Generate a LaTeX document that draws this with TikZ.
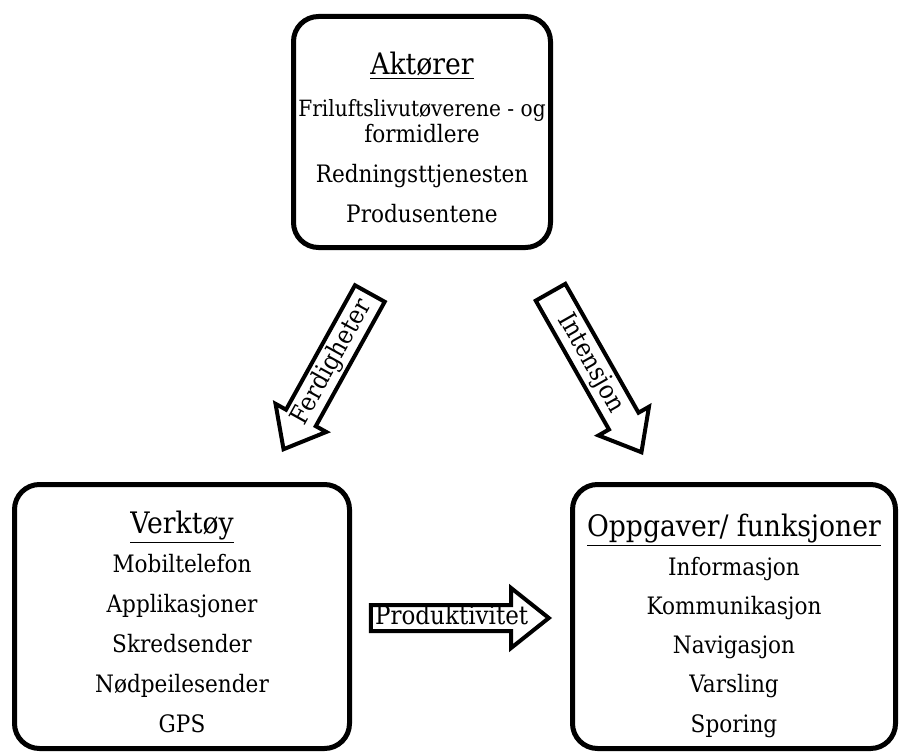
\documentclass[tikz,border=0pt]{standalone}
\usepackage{fontspec}
\setmainfont{DejaVu Serif}[FakeStretch=0.9]
\usetikzlibrary{shapes,positioning}
\newcommand{\heading}[1]{{\fontsize{14.8}{20}\selectfont\underline{#1}}}

\begin{document}
\begin{tikzpicture}[x=0.5pt,y=0.5pt]
            \tikzstyle{panel}=[draw,line width=2.5pt,rounded corners=12.5pt]
            \tikzstyle{list}=[align=center,inner sep=0pt,font=\fontsize{12}{20}\selectfont]
            \tikzstyle{bigarrow}=[draw,line width=2pt,single arrow,single arrow head extend=6pt,single arrow tip angle=78,inner sep=1pt,text height=10pt,text depth=3pt,font=\fontsize{12.8}{12.8}\selectfont]
            \useasboundingbox (0,0) rectangle (903,751);

            \node[panel,minimum width=128.5pt,minimum height=115.5pt] (aktorer) at (422,619) {};
            \node[panel,minimum width=167.5pt,minimum height=132pt] (verktoy) at (182,134.5) {};
            \node[panel,minimum width=161.5pt,minimum height=132pt] (oppgaver) at (734,134.5) {};

            \node[list] (aktorerliste) at ([yshift=-2.5pt]aktorer.center)
                {\heading{Aktører}\\[1pt] {\fontsize{11.2}{20}\selectfont Friluftslivutøverene - og}\\[-7pt] formidlere\\ Redningsttjenesten\\ Produsentene};
            \node[list] (verktoyliste) at ([yshift=-2.5pt]verktoy.center)
                {\heading{Verktøy}\\[-0.5pt] Mobiltelefon\\ Applikasjoner\\ Skredsender\\ Nødpeilesender\\ GPS};
            \node[list,font=\fontsize{12}{19.6}\selectfont] (oppgaverliste) at ([yshift=-4.5pt]oppgaver.center)
                {\heading{Oppgaver/ funksjoner}\\[0pt] Informasjon\\ Kommunikasjon\\ Navigasjon\\ Varsling\\ Sporing};

            \node[bigarrow,rotate=61,shape border rotate=180,minimum height=89pt,anchor=tip] (ferdigheter) at (282,299) {Ferdigheter};
            \node[bigarrow,rotate=-60.4,minimum height=92pt,anchor=tip] (intensjon) at (643,296) {Intensjon};
            \node[bigarrow,minimum height=89pt,anchor=tip,text height=8.5pt,text depth=2.5pt,inner sep=0pt,single arrow head extend=8.5pt,single arrow tip angle=77] (produktivitet) at (552,133) {Produktivitet};
\end{tikzpicture}
\end{document}
